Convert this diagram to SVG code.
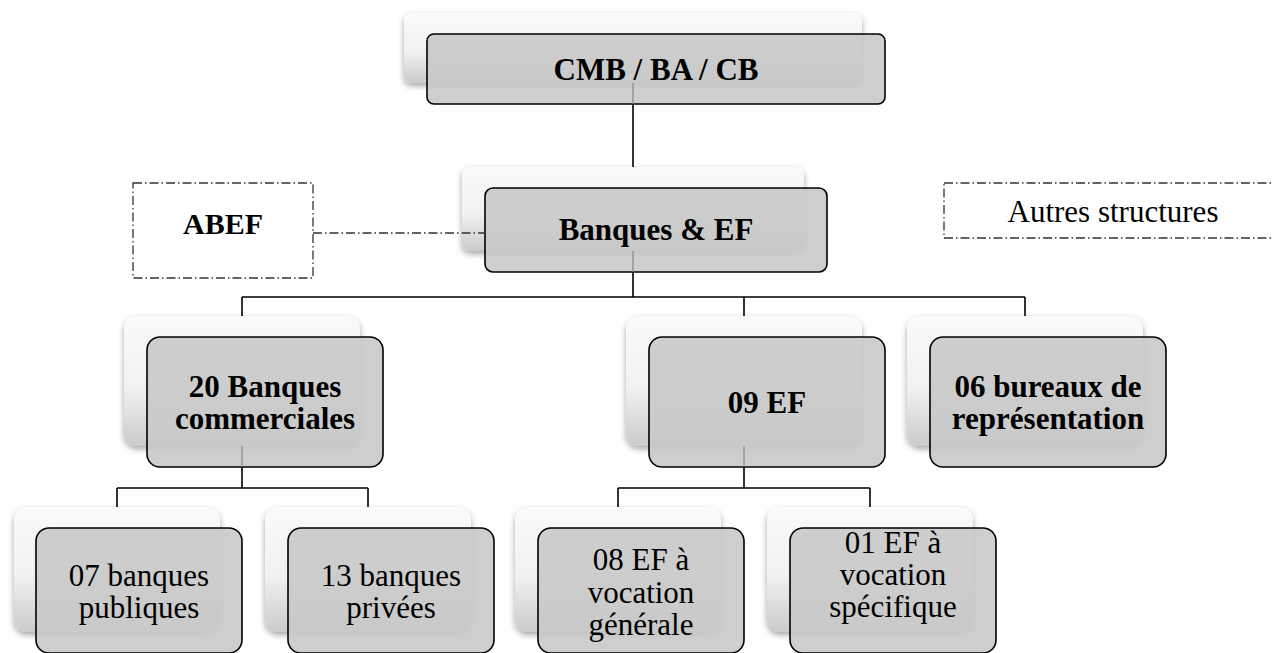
<svg xmlns="http://www.w3.org/2000/svg" width="1274" height="653" viewBox="0 0 1274 653">
  <defs>
    <linearGradient id="backFill" x1="0" y1="0" x2="0" y2="1">
      <stop offset="0" stop-color="#fafafa"/>
      <stop offset="0.55" stop-color="#f1f1f1"/>
      <stop offset="1" stop-color="#cbcbcb"/>
    </linearGradient>
    <filter id="soft" x="-10%" y="-10%" width="120%" height="130%">
      <feDropShadow dx="0" dy="3" stdDeviation="3" flood-color="#000" flood-opacity="0.35"/>
    </filter>
  </defs>
  <style>
    .back { fill: url(#backFill); filter: url(#soft); }
    .front { fill: #c9c9c9; fill-opacity: 0.9; stroke: #000; stroke-width: 1.6; }
    .note { fill: none; stroke: #333; stroke-width: 1.3; stroke-dasharray: 9 3 1.5 3; }
    .link { fill: none; stroke: #000; stroke-width: 1.6; }
    .faint { fill: none; stroke: #888; stroke-width: 1.2; }
    .dash { fill: none; stroke: #333; stroke-width: 1.3; stroke-dasharray: 9 3 1.5 3; }
    .t { font-family: 'Liberation Serif', 'DejaVu Serif', 'Times New Roman', serif; font-size: 31px; fill: #000; text-anchor: middle; }
    .b { font-weight: bold; }
  </style>

  <rect width="1274" height="653" fill="#fff"/>

  <!-- top: supervising authorities -->
  <g id="cmb">
    <rect class="back" x="404" y="13" width="458" height="70" rx="7"/>
    <rect class="front" x="427" y="34" width="458" height="70" rx="7"/>
    <text class="t b" x="656" y="80">CMB / BA / CB</text>
  </g>

  <g id="abef">
    <rect class="note" x="133" y="183" width="180" height="95"/>
    <text class="t b" x="223" y="234" style="font-size:30px">ABEF</text>
  </g>

  <g id="autres">
    <rect class="note" x="944" y="183" width="340" height="55"/>
    <text class="t" x="1113" y="222">Autres structures</text>
  </g>

  <g id="banques-ef">
    <rect class="back" x="462" y="167" width="342" height="84" rx="8"/>
    <rect class="front" x="485" y="188" width="342" height="84" rx="8"/>
    <text class="t b" x="656" y="240">Banques &amp; EF</text>
  </g>

  <!-- second level -->
  <g id="banques-commerciales">
    <rect class="back" x="124" y="316" width="236" height="130" rx="13"/>
    <rect class="front" x="147" y="337" width="236" height="130" rx="13"/>
    <text class="t b" x="265" y="397">20 Banques</text>
    <text class="t b" x="265" y="429">commerciales</text>
  </g>

  <g id="ef">
    <rect class="back" x="626" y="316" width="236" height="130" rx="13"/>
    <rect class="front" x="649" y="337" width="236" height="130" rx="13"/>
    <text class="t b" x="767" y="413">09 EF</text>
  </g>

  <g id="bureaux">
    <rect class="back" x="907" y="316" width="236" height="130" rx="13"/>
    <rect class="front" x="930" y="337" width="236" height="130" rx="13"/>
    <text class="t b" x="1048" y="397">06 bureaux de</text>
    <text class="t b" x="1048" y="429">représentation</text>
  </g>

  <!-- third level -->
  <g id="publiques">
    <rect class="back" x="14" y="507" width="206" height="125" rx="13"/>
    <rect class="front" x="36" y="528" width="206" height="125" rx="13"/>
    <text class="t" x="139" y="586">07 banques</text>
    <text class="t" x="139" y="618">publiques</text>
  </g>

  <g id="privees">
    <rect class="back" x="265" y="507" width="206" height="125" rx="13"/>
    <rect class="front" x="288" y="528" width="206" height="125" rx="13"/>
    <text class="t" x="391" y="586">13 banques</text>
    <text class="t" x="391" y="618">privées</text>
  </g>

  <g id="ef-generale">
    <rect class="back" x="515" y="507" width="206" height="125" rx="13"/>
    <rect class="front" x="538" y="528" width="206" height="125" rx="13"/>
    <text class="t" x="641" y="570">08 EF à</text>
    <text class="t" x="641" y="603">vocation</text>
    <text class="t" x="641" y="635">générale</text>
  </g>

  <g id="ef-specifique">
    <rect class="back" x="767" y="507" width="206" height="125" rx="13"/>
    <rect class="front" x="790" y="528" width="206" height="125" rx="13"/>
    <text class="t" x="893" y="553">01 EF à</text>
    <text class="t" x="893" y="585">vocation</text>
    <text class="t" x="893" y="617">spécifique</text>
  </g>

  <!-- connectors -->
  <g id="connectors">
    <path class="faint" d="M633 83V104 M633 251V272 M242 446V467 M744 446V467"/>
    <path class="link" d="M633 104V167"/>
    <path class="link" d="M633 272V297 M242 297H1025 M242 297V316 M744 297V316 M1025 297V316"/>
    <path class="link" d="M242 467V488 M117 488H368 M117 488V507 M368 488V507"/>
    <path class="link" d="M744 467V488 M618 488H870 M618 488V507 M870 488V507"/>
    <path class="dash" d="M313 233H485"/>
  </g>
</svg>
